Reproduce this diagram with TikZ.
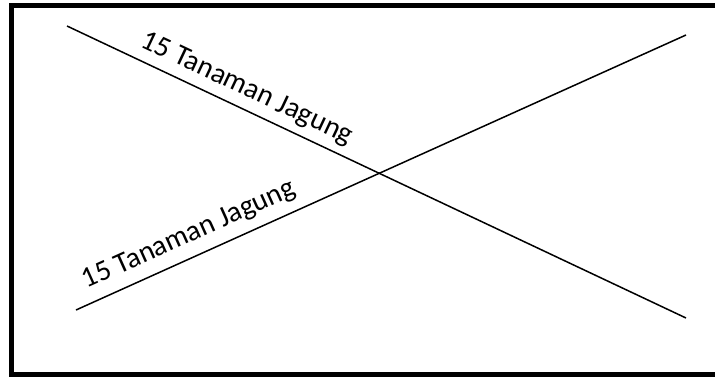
\documentclass[tikz,border=0pt]{standalone}
\usepackage{fontspec}
\setmainfont{Carlito}
\begin{document}
\begin{tikzpicture}[x=1pt,y=-1pt,
  frame/.style={draw=black,line width=5pt},
  rowline/.style={draw=black,line width=1.5pt},
  rowlabel/.style={font=\fontsize{29}{33}\selectfont,sloped,anchor=south,inner sep=0pt}]
\useasboundingbox (0,0) rectangle (715,376);
\clip (0,0) rectangle (715,376);
\draw[frame] (11,5.5) rectangle (717,374.5);
\coordinate (a1) at (67,26);
\coordinate (a2) at (686,318);
\coordinate (b1) at (76,310);
\coordinate (b2) at (686,35);
\draw[rowline] (a1) -- node[rowlabel,pos=0.277,yshift=7pt] {15 Tanaman Jagung} (a2);
\draw[rowline] (b1) -- node[rowlabel,pos=0.20,yshift=9pt] {15 Tanaman Jagung} (b2);
\end{tikzpicture}
\end{document}
